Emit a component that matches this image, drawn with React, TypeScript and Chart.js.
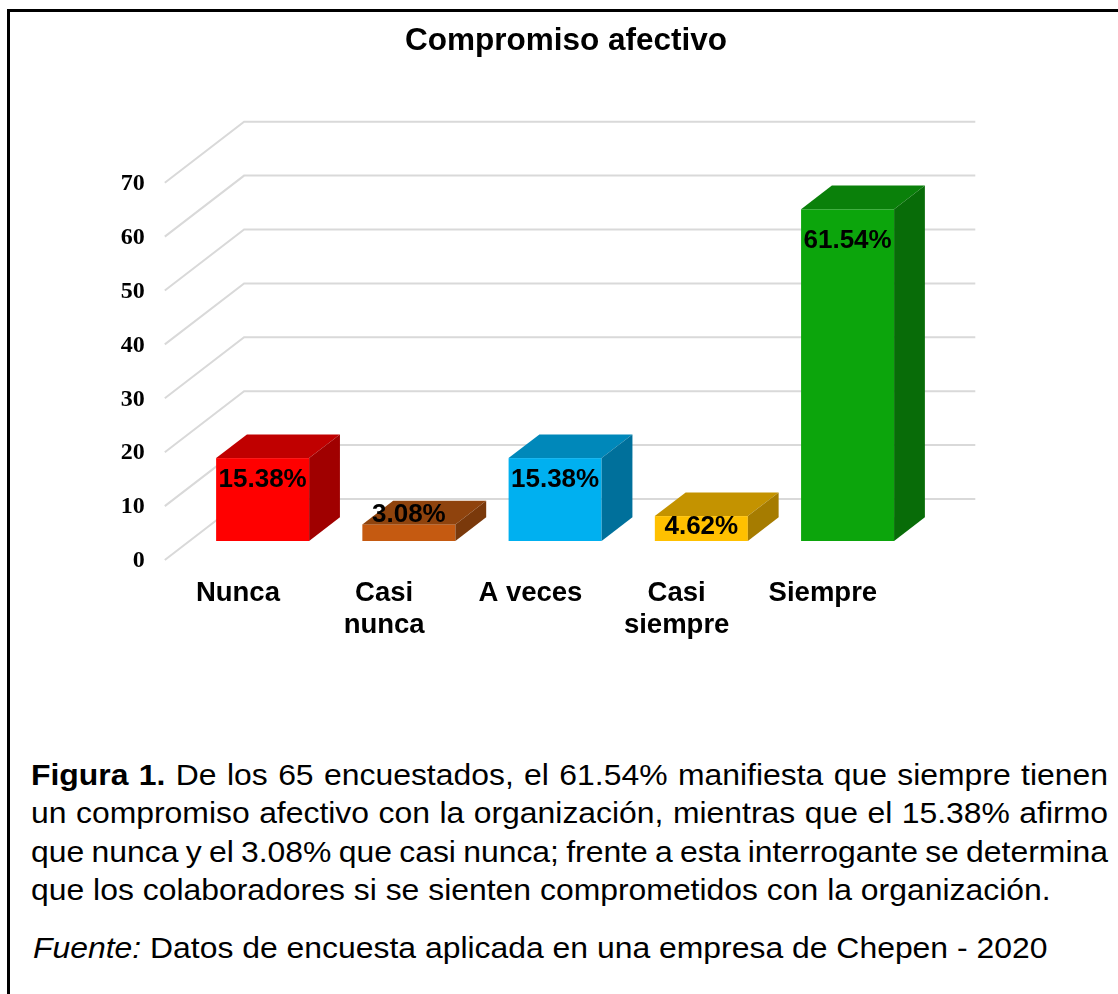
import React, { useEffect, useRef } from "react";
import { Chart, registerables } from "chart.js";

Chart.register(...registerables);

const titleText = "Compromiso afectivo";
const categories: string[][] = [["Nunca"], ["Casi", "nunca"], ["A veces"], ["Casi", "siempre"], ["Siempre"]];
const values = [15.38, 3.08, 15.38, 4.62, 61.54];
const dataLabels = ["15.38%", "3.08%", "15.38%", "4.62%", "61.54%"];
const yTicks = [0, 10, 20, 30, 40, 50, 60, 70];
const frontColors = ["#FF0000", "#C55A11", "#00B0F0", "#FFC000", "#0CA50C"];
const topColors = ["#C00000", "#8F430D", "#0088BA", "#C49300", "#0A800A"];
const sideColors = ["#A00000", "#7A390B", "#00709B", "#A67C00", "#086C08"];

const captionLines = [
  ["Figura 1.", " De los 65 encuestados, el 61.54% manifiesta que siempre tienen"],
  ["", "un compromiso afectivo con la organización, mientras que el 15.38% afirmo"],
  ["", "que nunca y el 3.08% que casi nunca; frente a esta interrogante se determina"],
  ["", "que los colaboradores si se sienten comprometidos con la organización."],
];
const sourceLabel = "Fuente:";
const sourceText = " Datos de encuesta aplicada en una empresa de Chepen - 2020";

const CANVAS_W = 1118;
const CANVAS_H = 720;
const K = 1.3; // horizontal shift per vertical px of depth
const FLOOR_FRONT = -19;
const BAR_DEPTH = 23.7;
const BACK = 42;

const proj = (x: number, y: number, d: number): [number, number] => [x + K * d, y - d];

const SANS = '"Liberation Sans", Arial, sans-serif';
const SERIF = '"Liberation Serif", "Times New Roman", serif';

const threeD = {
  id: "threeD",
  beforeDatasetsDraw(chart: any) {
    const ctx: CanvasRenderingContext2D = chart.ctx;
    const yScale = chart.scales.y;
    const area = chart.chartArea;
    ctx.save();

    // gridlines on walls
    ctx.strokeStyle = "#D9D9D9";
    ctx.lineWidth = 2;
    for (const v of yTicks) {
      const yf = yScale.getPixelForValue(v);
      const f = proj(area.left, yf, FLOOR_FRONT);
      const b = proj(area.left, yf, BACK);
      const br = proj(area.right, yf, BACK);
      ctx.beginPath();
      ctx.moveTo(f[0], f[1]);
      ctx.lineTo(b[0], b[1]);
      ctx.lineTo(br[0], br[1]);
      ctx.stroke();
      ctx.fillStyle = "#000";
      ctx.font = `bold 24px ${SERIF}`;
      ctx.textAlign = "right";
      ctx.textBaseline = "middle";
      ctx.fillText(String(v), f[0] - 20, f[1] + 1);
    }

    // bars
    const meta = chart.getDatasetMeta(0);
    meta.data.forEach((el: any, i: number) => {
      const p = el.getProps(["x", "y", "base", "width"], true);
      const left = p.x - p.width / 2;
      const right = p.x + p.width / 2;
      const top = p.y;
      const base = p.base;
      ctx.fillStyle = frontColors[i];
      ctx.fillRect(left, top, right - left, base - top);
      const tl = proj(left, top, BAR_DEPTH);
      const tr = proj(right, top, BAR_DEPTH);
      ctx.fillStyle = topColors[i];
      ctx.beginPath();
      ctx.moveTo(left, top);
      ctx.lineTo(right, top);
      ctx.lineTo(tr[0], tr[1]);
      ctx.lineTo(tl[0], tl[1]);
      ctx.closePath();
      ctx.fill();
      const br = proj(right, base, BAR_DEPTH);
      ctx.fillStyle = sideColors[i];
      ctx.beginPath();
      ctx.moveTo(right, top);
      ctx.lineTo(right, base);
      ctx.lineTo(br[0], br[1]);
      ctx.lineTo(tr[0], tr[1]);
      ctx.closePath();
      ctx.fill();
    });

    // data labels
    meta.data.forEach((el: any, i: number) => {
      const p = el.getProps(["x", "y", "base"], true);
      const h = p.base - p.y;
      const clamp = (t: number) => Math.max(0, Math.min(1, t));
      const off = h < 20 ? -9.5 : 11 + 11 * clamp((h - 25) / 58) + 10 * clamp((h - 83) / 249);
      ctx.fillStyle = "#000";
      ctx.font = `bold 26px ${SANS}`;
      ctx.textAlign = "center";
      ctx.textBaseline = "middle";
      ctx.fillText(dataLabels[i], p.x, p.y + off);
    });

    // category labels
    meta.data.forEach((el: any, i: number) => {
      const p = el.getProps(["x", "base"], true);
      const pos = proj(p.x, p.base, FLOOR_FRONT);
      ctx.fillStyle = "#000";
      ctx.font = `bold 27.5px ${SANS}`;
      ctx.textAlign = "center";
      ctx.textBaseline = "middle";
      categories[i].forEach((line, j) => {
        ctx.fillText(line, pos[0], pos[1] + 33 + j * 32);
      });
    });

    // title
    ctx.fillStyle = "#000";
    ctx.font = `bold 31.5px ${SANS}`;
    ctx.textAlign = "center";
    ctx.textBaseline = "alphabetic";
    ctx.fillText(titleText, 566, 50);

    ctx.restore();
    return false;
  },
};

function BarChart() {
  const ref = useRef<HTMLCanvasElement | null>(null);
  useEffect(() => {
    if (!ref.current) return;
    const chart = new Chart(ref.current, {
      type: "bar",
      data: {
        labels: categories,
        datasets: [
          {
            data: values,
            backgroundColor: frontColors,
            barPercentage: 0.636,
            categoryPercentage: 1,
          },
        ],
      },
      options: {
        responsive: false,
        animation: false,
        devicePixelRatio: 1,
        layout: { padding: { left: 189.5, right: CANVAS_W - 920.7, top: 163.7, bottom: CANVAS_H - 541 } },
        scales: {
          x: { display: false, offset: true },
          y: { display: false, min: 0, max: 70 },
        },
        plugins: { legend: { display: false }, tooltip: { enabled: false }, title: { display: false } },
      },
      plugins: [threeD],
    } as any);
    return () => chart.destroy();
  }, []);
  return <canvas ref={ref} width={CANVAS_W} height={CANVAS_H} style={{ position: "absolute", left: 0, top: 0 }} />;
}

const STRETCH = 1.1;

export default function App() {
  const textStyle: React.CSSProperties = {
    fontFamily: SANS,
    fontSize: 29,
    lineHeight: "38.3px",
    color: "#000",
    transform: `scaleX(${STRETCH})`,
    transformOrigin: "left top",
  };
  return (
    <div style={{ position: "absolute", left: 0, top: 0, width: 1118, height: 994, overflow: "hidden", background: "#fff" }}>
      <div
        style={{
          position: "absolute",
          left: 7,
          top: 9,
          width: 1300,
          height: 1300,
          borderLeft: "3px solid #000",
          borderTop: "3px solid #000",
        }}
      />
      <BarChart />
      <div style={{ ...textStyle, position: "absolute", left: 31, top: 756, width: 1077 / STRETCH }}>
        {captionLines.map((ln, i) => {
          const justified = i < captionLines.length - 1;
          return (
            <div
              key={i}
              style={{
                textAlign: "justify",
                textAlignLast: justified ? "justify" : "left",
                wordSpacing: justified ? "-4px" : "0px",
                whiteSpace: "nowrap",
              } as React.CSSProperties}
            >
              {ln[0] ? <b>{ln[0]}</b> : null}
              {ln[1]}
            </div>
          );
        })}
      </div>
      <div style={{ ...textStyle, position: "absolute", left: 33, top: 929, whiteSpace: "nowrap" }}>
        <i>{sourceLabel}</i>
        {sourceText}
      </div>
    </div>
  );
}
